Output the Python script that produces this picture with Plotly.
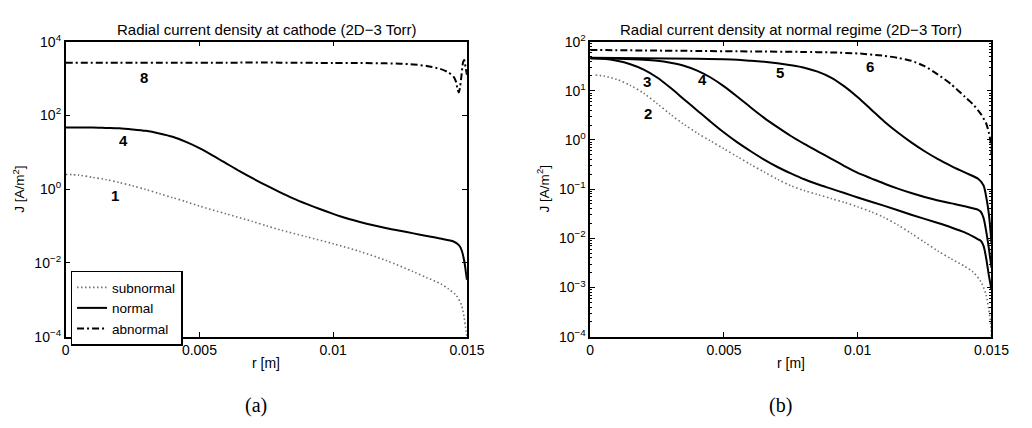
import numpy as np
import plotly.graph_objects as go

# ---- data: radius [m] and log10 of radial current density J [A/m^2] ----
# (a) cathode: subnormal (1), normal (4), abnormal (8)
r_a_sub = [0, 0.0005, 0.001, 0.0015, 0.002, 0.0025, 0.003, 0.0035, 0.004, 0.0045,
           0.005, 0.006, 0.007, 0.0075, 0.008, 0.009, 0.010, 0.011, 0.012, 0.013,
           0.0135, 0.014, 0.0143, 0.0146, 0.0148, 0.0149, 0.01495, 0.015]
lj_a_sub = [0.40, 0.38, 0.32, 0.26, 0.18, 0.09, -0.01, -0.12, -0.23, -0.34,
            -0.46, -0.67, -0.88, -0.99, -1.10, -1.29, -1.48, -1.69, -1.94, -2.24,
            -2.40, -2.56, -2.70, -2.88, -3.15, -3.50, -3.75, -4.0]

r_a_nor = [0, 0.0005, 0.001, 0.0015, 0.002, 0.0025, 0.003, 0.0035, 0.004, 0.0045,
           0.005, 0.0055, 0.006, 0.0065, 0.007, 0.0075, 0.008, 0.0085, 0.009, 0.0095,
           0.010, 0.0105, 0.011, 0.0115, 0.012, 0.0125, 0.013, 0.0135, 0.014, 0.0145,
           0.0147, 0.0148, 0.0149, 0.015]
lj_a_nor = [1.67, 1.67, 1.67, 1.66, 1.65, 1.62, 1.58, 1.51, 1.42, 1.28,
            1.11, 0.91, 0.70, 0.49, 0.29, 0.10, -0.08, -0.25, -0.40, -0.54,
            -0.67, -0.79, -0.89, -0.98, -1.06, -1.13, -1.20, -1.27, -1.34, -1.42,
            -1.52, -1.65, -1.95, -2.46]

r_a_abn = [0, 0.002, 0.004, 0.006, 0.008, 0.010, 0.011, 0.012, 0.0125, 0.013,
           0.0135, 0.014, 0.0143, 0.0145, 0.0146, 0.01465, 0.0147, 0.01475, 0.0148,
           0.01485, 0.0149, 0.01495, 0.015]
lj_a_abn = [3.43, 3.43, 3.43, 3.43, 3.43, 3.42, 3.42, 3.41, 3.40, 3.38,
            3.34, 3.26, 3.17, 3.05, 2.90, 2.70, 2.62, 2.80, 3.10,
            3.42, 3.50, 3.30, 3.10]

# (b) normal regime: subnormal (2), normal (3, 4, 5), abnormal (6)
r_b2 = [0.0002, 0.0005, 0.001, 0.0015, 0.002, 0.0025, 0.003, 0.0035, 0.004, 0.0045,
        0.005, 0.0055, 0.006, 0.0065, 0.007, 0.0075, 0.008, 0.0085, 0.009, 0.0095,
        0.010, 0.0105, 0.011, 0.0115, 0.012, 0.0125, 0.013, 0.0135, 0.014, 0.0143,
        0.0146, 0.0148, 0.0149, 0.01497, 0.015]
lj_b2 = [1.32, 1.30, 1.23, 1.11, 0.95, 0.74, 0.52, 0.32, 0.14, -0.02,
         -0.18, -0.34, -0.50, -0.65, -0.80, -0.93, -1.03, -1.11, -1.19, -1.27,
         -1.36, -1.46, -1.58, -1.73, -1.90, -2.08, -2.26, -2.42, -2.57, -2.68,
         -2.88, -3.15, -3.45, -3.75, -4.0]

r_b3 = [0, 0.0005, 0.001, 0.0015, 0.002, 0.0025, 0.003, 0.0035, 0.004, 0.0045,
        0.005, 0.0055, 0.006, 0.0065, 0.007, 0.0075, 0.008, 0.0085, 0.009, 0.0095,
        0.010, 0.011, 0.012, 0.013, 0.0135, 0.014, 0.0143, 0.0145, 0.0146, 0.0147,
        0.0148, 0.0149, 0.015]
lj_b3 = [1.66, 1.65, 1.61, 1.54, 1.43, 1.27, 1.06, 0.83, 0.60, 0.37,
         0.15, -0.05, -0.23, -0.40, -0.55, -0.68, -0.80, -0.90, -0.99, -1.08,
         -1.17, -1.34, -1.52, -1.69, -1.78, -1.88, -1.96, -2.02, -2.05, -2.15,
         -2.40, -2.75, -3.05]

r_b4 = [0, 0.001, 0.002, 0.0025, 0.003, 0.0035, 0.004, 0.0045, 0.005, 0.0055,
        0.006, 0.0065, 0.007, 0.0075, 0.008, 0.0085, 0.009, 0.0095, 0.010, 0.0105,
        0.011, 0.0115, 0.012, 0.0125, 0.013, 0.0135, 0.014, 0.0145, 0.0146, 0.0147,
        0.0148, 0.0149, 0.015]
lj_b4 = [1.66, 1.65, 1.63, 1.61, 1.57, 1.51, 1.41, 1.27, 1.09, 0.88,
         0.66, 0.45, 0.26, 0.08, -0.08, -0.23, -0.38, -0.53, -0.67, -0.78,
         -0.89, -0.99, -1.08, -1.16, -1.23, -1.29, -1.35, -1.42, -1.46, -1.58,
         -1.85, -2.20, -2.60]

r_b5 = [0, 0.002, 0.004, 0.005, 0.0055, 0.006, 0.0065, 0.007, 0.0075, 0.008,
        0.0085, 0.009, 0.0095, 0.010, 0.0105, 0.011, 0.0115, 0.012, 0.0125, 0.013,
        0.0135, 0.014, 0.0145, 0.0147, 0.0148, 0.0149, 0.015]
lj_b5 = [1.67, 1.66, 1.65, 1.64, 1.63, 1.61, 1.59, 1.56, 1.52, 1.47,
         1.39, 1.27, 1.09, 0.87, 0.62, 0.37, 0.15, -0.05, -0.23, -0.39,
         -0.53, -0.66, -0.79, -0.92, -1.15, -1.50, -2.10]

r_b6 = [0, 0.002, 0.004, 0.006, 0.008, 0.009, 0.010, 0.011, 0.0115, 0.012,
        0.0125, 0.013, 0.0135, 0.014, 0.0143, 0.0146, 0.0148, 0.0149, 0.01497, 0.015]
lj_b6 = [1.83, 1.82, 1.81, 1.80, 1.79, 1.78, 1.76, 1.71, 1.67, 1.61,
         1.50, 1.33, 1.13, 0.88, 0.73, 0.53, 0.34, 0.15, -0.05, -0.30]

# curve number labels: (text, r, log10 J)
labels_a = [("8", 0.00293, 3.04), ("4", 0.00218, 1.31), ("1", 0.00184, -0.16)]
labels_b = [("3", 0.00211, 1.19), ("4", 0.00418, 1.22), ("5", 0.00711, 1.38),
            ("2", 0.00217, 0.54), ("6", 0.01046, 1.49)]

x_tickvals = [0, 0.005, 0.01, 0.015]
x_ticktext = ["0", "0.005", "0.01", "0.015"]
ya_exps = [-4, -2, 0, 2, 4]
yb_exps = [-4, -3, -2, -1, 0, 1, 2]

titles = ["Radial current density at cathode (2D\u22123 Torr)",
          "Radial current density at normal regime (2D\u22123 Torr)"]
captions = ["(a)", "(b)"]

# ---- styling ----
FONT = "Liberation Sans, Arial, Helvetica, sans-serif"
SERIF = "Liberation Serif, Times New Roman, serif"
W, H = 1032, 428
dot = dict(color="#707070", width=1.6, dash="1.5px,2.5px", shape="spline", smoothing=0.8)
solid = dict(color="black", width=2, shape="spline", smoothing=0.8)
dashdot = dict(color="black", width=2, dash="7px,3px,2px,3px", shape="spline", smoothing=0.6)


def J(lj):
    return np.power(10.0, np.asarray(lj, dtype=float))


fig = go.Figure()

fig.add_trace(go.Scatter(x=r_a_sub, y=J(lj_a_sub), mode="lines", line=dot,
                         name="subnormal", xaxis="x", yaxis="y"))
fig.add_trace(go.Scatter(x=r_a_nor, y=J(lj_a_nor), mode="lines", line=solid,
                         name="normal", xaxis="x", yaxis="y"))
fig.add_trace(go.Scatter(x=r_a_abn, y=J(lj_a_abn), mode="lines", line=dashdot,
                         name="abnormal", xaxis="x", yaxis="y"))

for rr, lj, ln in [(r_b2, lj_b2, dot), (r_b3, lj_b3, solid), (r_b4, lj_b4, solid),
                   (r_b5, lj_b5, solid), (r_b6, lj_b6, dashdot)]:
    fig.add_trace(go.Scatter(x=rr, y=J(lj), mode="lines", line=ln,
                             showlegend=False, xaxis="x2", yaxis="y2"))

# panel geometry in pixels
pa = dict(x0=63, x1=473)
pb = dict(x0=599, x1=1009)
ytop, ybot = 33, 341

xax = dict(range=[0, 0.015], tickvals=x_tickvals, ticktext=x_ticktext,
           ticks="inside", ticklen=5, tickwidth=1, tickcolor="black",
           showline=True, linecolor="black", linewidth=1.5, mirror="ticks",
           showgrid=False, zeroline=False,
           tickfont=dict(family=FONT, size=14, color="black"))


def yax(exps, minor_vals=None):
    d = dict(type="log", range=[exps[0], exps[-1]],
             tickvals=[10.0 ** e for e in exps],
             ticktext=["10<sup>%s</sup>" % (str(e).replace("-", "\u2212")) for e in exps],
             ticks="inside", ticklen=5, tickwidth=1, tickcolor="black",
             showline=True, linecolor="black", linewidth=1.5, mirror="ticks",
             showgrid=False, zeroline=False,
             tickfont=dict(family=FONT, size=14, color="black"))
    if minor_vals is not None:
        d["minor"] = dict(tickmode="array", tickvals=minor_vals, ticks="inside",
                          ticklen=2.5, tickwidth=1, tickcolor="black", showgrid=False)
    return d


minor_b = [m * 10.0 ** e for e in yb_exps[:-1] for m in range(2, 10)]

fig.update_layout(
    width=W, height=H, margin=dict(l=0, r=0, t=0, b=0),
    paper_bgcolor="white", plot_bgcolor="white",
    font=dict(family=FONT, size=13, color="black"),
    xaxis=dict(xax, domain=[pa["x0"] / W, pa["x1"] / W], anchor="y"),
    yaxis=dict(yax(ya_exps), domain=[1 - ybot / H, 1 - ytop / H], anchor="x"),
    xaxis2=dict(xax, domain=[pb["x0"] / W, pb["x1"] / W], anchor="y2"),
    yaxis2=dict(yax(yb_exps, minor_b), domain=[1 - ybot / H, 1 - ytop / H], anchor="x2"),
    legend=dict(x=68 / W, y=1 - 272 / H, xanchor="left", yanchor="top",
                bordercolor="black", borderwidth=1.5, bgcolor="white",
                font=dict(family=FONT, size=13.5), tracegroupgap=0),
)

ann = []


def paper_text(text, px, py, font, angle=0):
    return dict(text=text, x=px / W, y=1 - py / H, xref="paper", yref="paper",
                xanchor="center", yanchor="middle", textangle=angle,
                showarrow=False, font=font)


for i, p in enumerate([pa, pb]):
    cx = (p["x0"] + p["x1"]) / 2
    ann.append(paper_text(titles[i], cx, 20, dict(family=FONT, size=15)))
    ann.append(paper_text("r [m]", cx, 368, dict(family=FONT, size=14)))
    ann.append(paper_text(captions[i], cx - 11, 413, dict(family=SERIF, size=20)))
    ann.append(paper_text("J [A/m<sup>2</sup>]", p["x0"] - 48, (ytop + ybot) / 2,
                          dict(family=FONT, size=13.5), angle=-90))

for txt, r, lj in labels_a:
    ann.append(dict(text="<b>%s</b>" % txt, x=r, y=lj, xref="x", yref="y",
                    showarrow=False, font=dict(family=FONT, size=15)))
for txt, r, lj in labels_b:
    ann.append(dict(text="<b>%s</b>" % txt, x=r, y=lj, xref="x2", yref="y2",
                    showarrow=False, font=dict(family=FONT, size=15)))

fig.update_layout(annotations=ann)
fig.write_html("out.html")
